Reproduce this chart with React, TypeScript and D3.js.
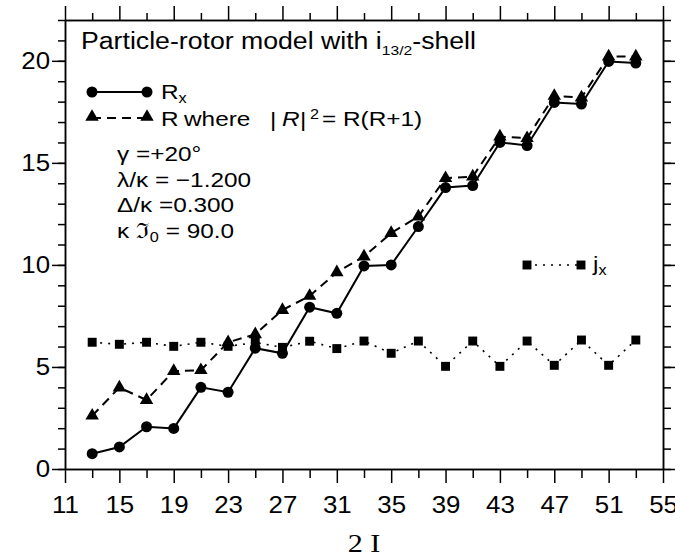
import React, { useEffect, useRef } from 'react';
import {
  axisBottom,
  axisLeft,
  axisRight,
  axisTop,
  line,
  range,
  scaleLinear,
  select,
  symbol,
  symbolCircle,
  symbolSquare,
  symbolTriangle,
} from 'd3';

// 2I values (x) and the three curves
const spins = [13, 15, 17, 19, 21, 23, 25, 27, 29, 31, 33, 35, 37, 39, 41, 43, 45, 47, 49, 51, 53];
const rxValues = [0.75, 1.08, 2.07, 1.99, 4.0, 3.76, 5.92, 5.67, 7.93, 7.63, 9.95, 10.0, 11.88, 13.79, 13.89, 16.0, 15.85, 17.96, 17.88, 19.97, 19.89];
const rValues = [2.61, 3.99, 3.38, 4.8, 4.84, 6.21, 6.6, 7.79, 8.48, 9.64, 10.41, 11.56, 12.37, 14.25, 14.33, 16.29, 16.21, 18.28, 18.2, 20.21, 20.21];
const jxValues = [6.21, 6.11, 6.21, 6.01, 6.21, 6.01, 6.2, 5.96, 6.26, 5.9, 6.27, 5.67, 6.27, 5.03, 6.27, 5.03, 6.27, 5.08, 6.32, 5.08, 6.32];

const xMajorTicks = [11, 15, 19, 23, 27, 31, 35, 39, 43, 47, 51, 55];
const xMinorTicks = [13, 17, 21, 25, 29, 33, 37, 41, 45, 49, 53];
const yMajorTicks = [0, 5, 10, 15, 20];
const yMinorTicks = range(0, 23);

const paramLines = ['γ =+20°', 'λ/κ = −1.200', 'Δ/κ =0.300'];

const W = 675;
const H = 559;
const margin = { top: 20, right: 12, bottom: 90, left: 65 };
const FONT = '"Liberation Sans", Arial, sans-serif';
const SX = 1.16; // the original figure is stretched horizontally
const TICK_SX = 1.1;

const App = () => {
  const ref = useRef<SVGSVGElement>(null);

  useEffect(() => {
    const svg = select(ref.current);
    svg.selectAll('*').remove();

    const x = scaleLinear().domain([11, 55]).range([margin.left, W - margin.right]);
    const y = scaleLinear().domain([0, 22]).range([H - margin.bottom, margin.top]);
    const x0 = x.range()[0];
    const x1 = x.range()[1];
    const y0 = y.range()[0];
    const y1 = y.range()[1];

    const styleAxis = (g) => {
      g.select('.domain').attr('stroke-width', 1.5);
      g.selectAll('.tick line').attr('stroke-width', 1.5);
      g.selectAll('text').attr('fill', '#000').attr('font-family', FONT).attr('font-size', 23.5);
    };

    // left
    svg.append('g').attr('transform', `translate(${x0},0)`)
      .call(axisLeft(y).tickValues(yMinorTicks).tickSize(7).tickSizeOuter(0).tickFormat(() => ''))
      .call(styleAxis);
    const left = svg.append('g').attr('transform', `translate(${x0},0)`)
      .call(axisLeft(y).tickValues(yMajorTicks).tickSize(13).tickSizeOuter(0).tickPadding(3))
      .call(styleAxis);
    left.selectAll('text').attr('x', -15 / TICK_SX).attr('transform', `scale(${TICK_SX},1)`);

    // right
    svg.append('g').attr('transform', `translate(${x1},0)`)
      .call(axisRight(y).tickValues(yMinorTicks).tickSize(8).tickSizeOuter(0).tickFormat(() => ''))
      .call(styleAxis);
    svg.append('g').attr('transform', `translate(${x1},0)`)
      .call(axisRight(y).tickValues(yMajorTicks).tickSize(13).tickSizeOuter(0).tickFormat(() => ''))
      .call(styleAxis);

    // top
    svg.append('g').attr('transform', `translate(0,${y1})`)
      .call(axisTop(x).tickValues(xMinorTicks).tickSize(7).tickSizeOuter(0).tickFormat(() => ''))
      .call(styleAxis);
    svg.append('g').attr('transform', `translate(0,${y1})`)
      .call(axisTop(x).tickValues(xMajorTicks).tickSize(14).tickSizeOuter(0).tickFormat(() => ''))
      .call(styleAxis);

    // bottom
    svg.append('g').attr('transform', `translate(0,${y0})`)
      .call(axisBottom(x).tickValues(xMinorTicks).tickSize(9).tickSizeOuter(0).tickFormat(() => ''))
      .call(styleAxis);
    const bottom = svg.append('g').attr('transform', `translate(0,${y0})`)
      .call(axisBottom(x).tickValues(xMajorTicks).tickSize(14).tickSizeOuter(0).tickPadding(13))
      .call(styleAxis);
    bottom.selectAll('text').attr('transform', `scale(${TICK_SX},1)`);

    // x title
    svg.append('text')
      .attr('transform', `translate(${(x0 + x1) / 2},552) scale(${SX},1)`)
      .attr('text-anchor', 'middle')
      .attr('font-family', '"Liberation Serif", "Times New Roman", serif')
      .attr('font-size', 26)
      .text('2 I');

    // series
    const series = [
      { values: rxValues, dash: null, width: 2, sym: symbolCircle, size: 95 },
      { values: rValues, dash: '9,6', width: 2, sym: symbolTriangle, size: 78 },
      { values: jxValues, dash: '2,6', width: 1.6, sym: symbolSquare, size: 80 },
    ];

    series.forEach((s) => {
      const pts = spins.map((d, i) => [d, s.values[i]]);
      svg.append('path')
        .datum(pts)
        .attr('fill', 'none')
        .attr('stroke', '#000')
        .attr('stroke-width', s.width)
        .attr('stroke-dasharray', s.dash)
        .attr('d', line().x((d) => x(d[0])).y((d) => y(d[1])));
      svg.selectAll(null)
        .data(pts)
        .enter()
        .append('path')
        .attr('transform', (d) => `translate(${x(d[0])},${y(d[1])})`)
        .attr('d', symbol(s.sym, s.size)())
        .attr('fill', '#000');
    });

    // text helper, stretched like the original
    const label = (px, py, size, parts, family = FONT) => {
      const t = svg.append('text')
        .attr('transform', `translate(${px},${py}) scale(${SX},1)`)
        .attr('font-family', family)
        .attr('font-size', size)
        .attr('fill', '#000');
      parts.forEach((p) => {
        t.append('tspan')
          .attr('font-size', p.size || size)
          .attr('dy', p.dy || 0)
          .attr('font-style', p.italic ? 'italic' : null)
          .text(p.text);
      });
      return t;
    };

    label(81, 49, 23, [
      { text: 'Particle-rotor model with i' },
      { text: '13/2', size: 13.5, dy: 6 },
      { text: '-shell', dy: -6 },
    ]);

    // legend: Rx
    const legendX = [92, 147];
    svg.append('line')
      .attr('x1', legendX[0]).attr('x2', legendX[1]).attr('y1', 92).attr('y2', 92)
      .attr('stroke', '#000').attr('stroke-width', 2);
    legendX.forEach((lx) => svg.append('path')
      .attr('transform', `translate(${lx},92)`)
      .attr('d', symbol(symbolCircle, 95)())
      .attr('fill', '#000'));
    label(161, 99, 21, [{ text: 'R' }, { text: 'x', size: 14, dy: 4 }]);

    // legend: R
    svg.append('line')
      .attr('x1', legendX[0]).attr('x2', legendX[1]).attr('y1', 118).attr('y2', 118)
      .attr('stroke', '#000').attr('stroke-width', 2).attr('stroke-dasharray', '9,6');
    legendX.forEach((lx) => svg.append('path')
      .attr('transform', `translate(${lx},117)`)
      .attr('d', symbol(symbolTriangle, 78)())
      .attr('fill', '#000'));
    label(161, 126, 21, [{ text: 'R' }]);
    label(184, 126, 21, [{ text: 'where' }]);
    label(270, 127, 21, [{ text: '|' }]);
    label(282, 126, 21, [{ text: 'R', italic: true }]);
    label(300, 127, 21, [{ text: '|' }]);
    label(310, 119, 14, [{ text: '2' }]);
    label(322, 126, 21, [{ text: '= R(R+1)' }]);

    // model parameters
    paramLines.forEach((s, i) => label(117, 161 + i * 25.7, 21, [{ text: s }]));
    label(117, 238, 21, [
      { text: 'κ ℑ' },
      { text: '0', size: 14, dy: 4 },
      { text: ' = 90.0', dy: -4 },
    ]);

    // legend: jx
    svg.append('line')
      .attr('x1', 527).attr('x2', 581).attr('y1', 265).attr('y2', 265)
      .attr('stroke', '#000').attr('stroke-width', 1.6).attr('stroke-dasharray', '2,6');
    [527, 581].forEach((lx) => svg.append('path')
      .attr('transform', `translate(${lx},265)`)
      .attr('d', symbol(symbolSquare, 80)())
      .attr('fill', '#000'));
    label(593, 271, 21, [{ text: 'j' }, { text: 'x', size: 14, dy: 4 }]);
  }, []);

  return (
    <svg
      ref={ref}
      width={W}
      height={H}
      style={{ position: 'absolute', left: 0, top: 0, background: '#fff' }}
    />
  );
};

export default App;
